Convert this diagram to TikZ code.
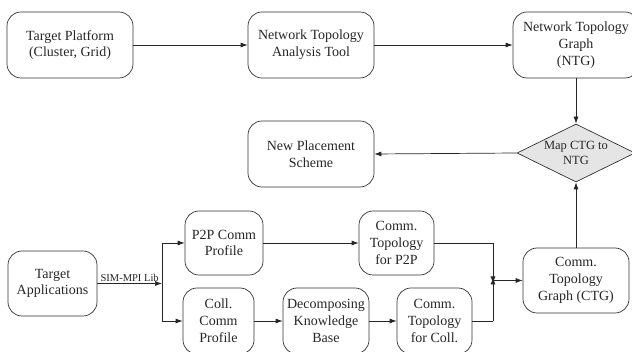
\documentclass[tikz,border=0pt]{standalone}
\usepackage{fontspec}
\setmainfont{Liberation Serif}
\usetikzlibrary{shapes.geometric,arrows.meta}
\begin{document}
\begin{tikzpicture}[x=1pt,y=-1pt,
  box/.style={draw=black!80, line width=0.7pt, rounded corners=14pt, align=center, inner sep=0pt,
    font=\fontsize{14}{16.8}\selectfont, text=black!85},
  conn/.style={draw=black!85, line width=0.7pt},
  arr/.style={conn, -{Latex[length=7pt,width=5pt]}}
]
\useasboundingbox (0,0) rectangle (632,352);
% top row
\node[box, minimum width=126pt, minimum height=66pt] (tp) at (70,45) {Target Platform\\(Cluster, Grid)};
\node[box, minimum width=126pt, minimum height=66pt] (nta) at (311,45) {Network Topology\\Analysis Tool};
\node[box, minimum width=126pt, minimum height=66pt] (ntg) at (576,45) {Network Topology\\Graph\\(NTG)};
% diamond
\node[diamond, draw=black!80, line width=0.7pt, fill=black!10, inner sep=0pt, minimum width=118pt, minimum height=58pt] (map) at (576,153) {};
\node[align=center, inner sep=0pt, font=\fontsize{12.5}{15.5}\selectfont, text=black!85] (maptext) at (576,153) {Map CTG to\\NTG};
\node[box, minimum width=126pt, minimum height=66pt] (nps) at (311,154) {New Placement\\Scheme};
% bottom
\node[box, minimum width=89pt, minimum height=65pt] (ta) at (52.5,283.5) {Target\\Applications};
\node[box, minimum width=78pt, minimum height=64pt] (p2p) at (224,243) {P2P Comm\\Profile};
\node[box, minimum width=75pt, minimum height=64pt] (ctp) at (396.5,243) {Comm.\\Topology\\for P2P};
\node[box, minimum width=71pt, minimum height=66pt] (coll) at (218.5,321) {Coll.\\Comm\\Profile};
\node[box, minimum width=86pt, minimum height=66pt] (dkb) at (326,321) {Decomposing\\Knowledge\\Base};
\node[box, minimum width=75pt, minimum height=66pt] (ctc) at (434.5,321) {Comm.\\Topology\\for Coll.};
\node[box, minimum width=106pt, minimum height=65pt] (ctg) at (576,280.5) {Comm.\\Topology\\Graph (CTG)};
% coordinates
\coordinate (split) at (162,283.5);
\coordinate (mtop) at (493,243);
\coordinate (mbot) at (493,321);
\coordinate (mmid) at (493,280.5);
% connectors
\draw[arr] (tp.east) -- (nta.west);
\draw[arr] (nta.east) -- (ntg.west);
\draw[arr] (ntg.south) -- (map.north);
\draw[arr] (map.west) -- (nps.east);
\draw[arr] (ctg.north) -- (map.south);
\draw[arr] (ta.east) -- node[above, inner sep=1.5pt, font=\fontsize{10.5}{12}\selectfont, text=black!85] {SIM-MPI Lib} (split);
\draw[arr] (split) |- (p2p.west);
\draw[arr] (split) |- (coll.west);
\draw[arr] (p2p.east) -- (ctp.west);
\draw[arr] (coll.east) -- (dkb.west);
\draw[arr] (dkb.east) -- (ctc.west);
\draw[conn] (ctp.east) -- (mtop);
\draw[arr] (mtop) -- ([yshift=-3pt]mmid);
\draw[conn] (ctc.east) -- (mbot);
\draw[arr] (mbot) -- ([yshift=3pt]mmid);
\draw[arr] (mmid) -- (ctg.west);
\end{tikzpicture}
\end{document}
